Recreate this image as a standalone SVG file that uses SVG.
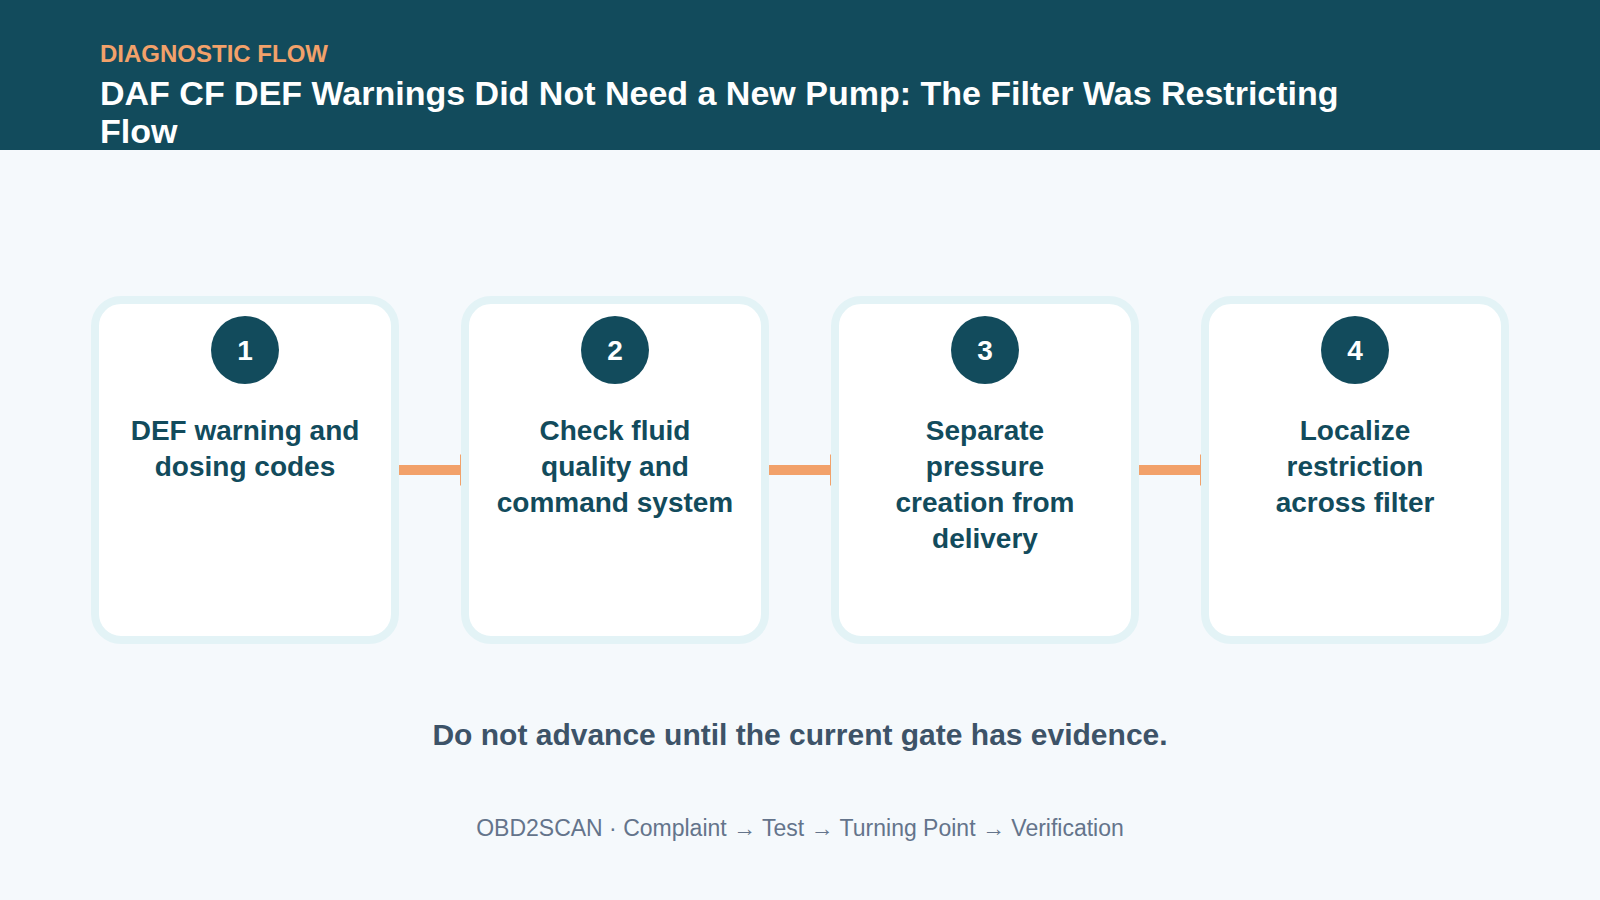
<svg xmlns="http://www.w3.org/2000/svg" width="1600" height="900" viewBox="0 0 1600 900">
  <defs>
    <style>
      .bg { fill: #f5f9fc; }
      .header { fill: #124b5c; }
      .kicker { font-family: "Liberation Sans", Arial, sans-serif; font-weight: 700; font-size: 24px; fill: #f2a16a; }
      .title { font-family: "Liberation Sans", Arial, sans-serif; font-weight: 700; font-size: 34px; fill: #ffffff; }
      .card { fill: #ffffff; stroke: #e3f3f6; stroke-width: 8; }
      .badge { fill: #124b5c; }
      .num { font-family: "Liberation Sans", Arial, sans-serif; font-weight: 700; font-size: 28px; fill: #ffffff; text-anchor: middle; }
      .label { font-family: "Liberation Sans", Arial, sans-serif; font-weight: 700; font-size: 28px; fill: #124b5c; text-anchor: middle; }
      .conn { stroke: #f2a16a; stroke-width: 10; fill: none; }
      .note { font-family: "Liberation Sans", Arial, sans-serif; font-weight: 700; font-size: 30px; fill: #3d5368; text-anchor: middle; }
      .footer { font-family: "Liberation Sans", Arial, sans-serif; font-size: 23px; fill: #64748b; text-anchor: middle; }
    </style>
    <marker id="arrow" viewBox="0 0 16 32" refX="0" refY="16" markerWidth="16" markerHeight="32" markerUnits="userSpaceOnUse" orient="auto">
      <path d="M0,0 L16,16 L0,32 z" fill="#f2a16a"/>
    </marker>
  </defs>

  <rect class="bg" x="0" y="0" width="1600" height="900"/>
  <g id="header">
    <rect class="header" x="0" y="0" width="1600" height="150"/>
    <text class="kicker" x="100" y="62">DIAGNOSTIC FLOW</text>
    <text class="title" x="100" y="105">DAF CF DEF Warnings Did Not Need a New Pump: The Filter Was Restricting</text>
    <text class="title" x="100" y="143">Flow</text>
  </g>

  <g id="connectors">
    <path class="conn" d="M395 470 H460" marker-end="url(#arrow)"/>
    <path class="conn" d="M765 470 H830" marker-end="url(#arrow)"/>
    <path class="conn" d="M1135 470 H1200" marker-end="url(#arrow)"/>
  </g>

  <g id="step1">
    <rect class="card" x="95" y="300" width="300" height="340" rx="26"/>
    <circle class="badge" cx="245" cy="350" r="34"/>
    <text class="num" x="245" y="360">1</text>
    <text class="label" x="245" y="440">DEF warning and</text>
    <text class="label" x="245" y="476">dosing codes</text>
  </g>

  <g id="step2">
    <rect class="card" x="465" y="300" width="300" height="340" rx="26"/>
    <circle class="badge" cx="615" cy="350" r="34"/>
    <text class="num" x="615" y="360">2</text>
    <text class="label" x="615" y="440">Check fluid</text>
    <text class="label" x="615" y="476">quality and</text>
    <text class="label" x="615" y="512">command system</text>
  </g>

  <g id="step3">
    <rect class="card" x="835" y="300" width="300" height="340" rx="26"/>
    <circle class="badge" cx="985" cy="350" r="34"/>
    <text class="num" x="985" y="360">3</text>
    <text class="label" x="985" y="440">Separate</text>
    <text class="label" x="985" y="476">pressure</text>
    <text class="label" x="985" y="512">creation from</text>
    <text class="label" x="985" y="548">delivery</text>
  </g>

  <g id="step4">
    <rect class="card" x="1205" y="300" width="300" height="340" rx="26"/>
    <circle class="badge" cx="1355" cy="350" r="34"/>
    <text class="num" x="1355" y="360">4</text>
    <text class="label" x="1355" y="440">Localize</text>
    <text class="label" x="1355" y="476">restriction</text>
    <text class="label" x="1355" y="512">across filter</text>
  </g>

  <g id="notes">
    <text class="note" x="800" y="745">Do not advance until the current gate has evidence.</text>
    <text class="footer" x="800" y="836">OBD2SCAN · Complaint → Test → Turning Point → Verification</text>
  </g>
</svg>
